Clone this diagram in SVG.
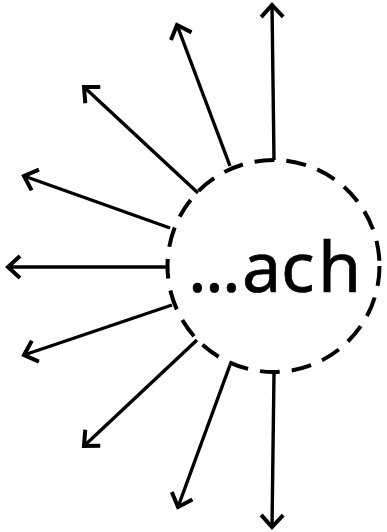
<svg xmlns="http://www.w3.org/2000/svg" width="387" height="532" viewBox="0 0 387 532">
<style>
.edge{fill:none;stroke:#000;stroke-width:3.4;stroke-linecap:butt;marker-end:url(#arrow)}
.ring{fill:none;stroke:#000;stroke-width:4;stroke-dasharray:20 12}
.label{font-family:"Comic Sans MS","Noto Sans","DejaVu Sans",sans-serif;font-size:70px;fill:#000;stroke:#000;stroke-width:0.7}
</style>
<defs>
<marker id="arrow" markerUnits="userSpaceOnUse" viewBox="-16 -14 20 28" refX="0" refY="0" markerWidth="20" markerHeight="28" orient="auto" overflow="visible">
<path d="M-12,-11 L0,0 L-12,11" fill="none" stroke="#000" stroke-width="4"/>
</marker>
</defs>
<rect width="387" height="532" fill="#fff"/>
<g id="connectors">
<path class="edge" d="M274,160 L272,5"/>
<path class="edge" d="M230,166 L177,25"/>
<path class="edge" d="M198,193 L84,87"/>
<path class="edge" d="M170,228 L24,176"/>
<path class="edge" d="M167,267 L8,267"/>
<path class="edge" d="M172,305 L24,355"/>
<path class="edge" d="M197,340 L84,446"/>
<path class="edge" d="M230,365 L178,507"/>
<path class="edge" d="M274,373 L272,527"/>
</g>
<g id="node-ach">
<circle class="ring" cx="273.5" cy="266" r="106"/>
<text class="label" y="292"><tspan x="188">.</tspan><tspan x="205">.</tspan><tspan x="222">.</tspan><tspan x="242">a</tspan><tspan x="281">c</tspan><tspan x="318">h</tspan></text>
</g>
</svg>
